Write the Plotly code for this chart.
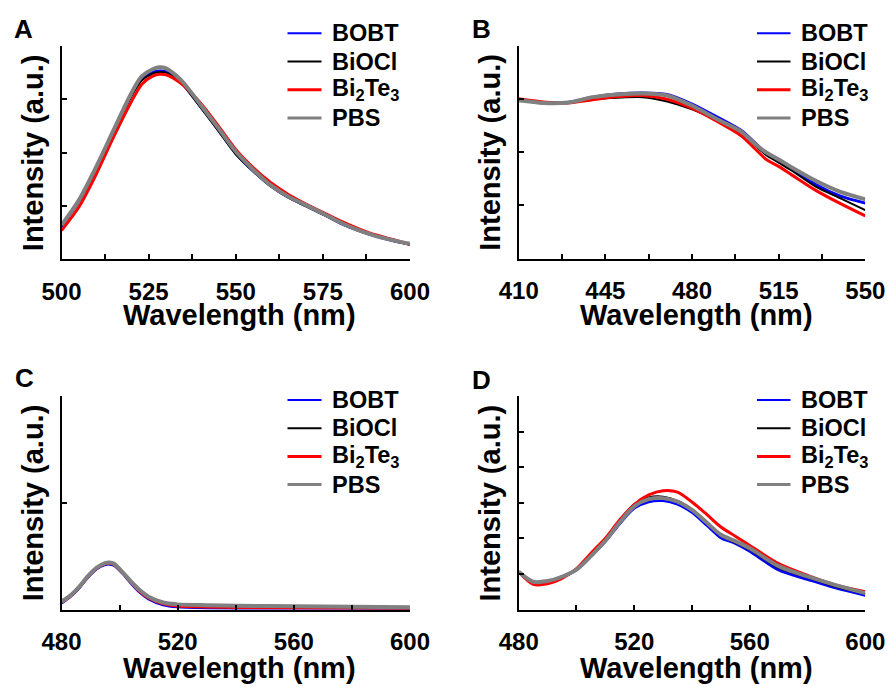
import plotly.graph_objects as go

# ---------------- data ----------------
series_names = ["BOBT", "BiOCl", "Bi<sub>2</sub>Te<sub>3</sub>", "PBS"]
series_colors = ["#0000FF", "#000000", "#FF0000", "#808080"]
series_widths = [3, 2, 3, 4]
legend_widths = [2, 2, 3, 3]

A_wl = [500, 505, 510, 515, 520, 523, 526, 528, 530, 533, 535, 540, 545, 550, 555, 560, 565, 570, 575, 580, 585, 590, 595, 600]
A_BOBT = [0.62, 1.09, 1.72, 2.41, 3.08, 3.38, 3.50, 3.53, 3.52, 3.40, 3.28, 2.86, 2.43, 1.99, 1.66, 1.38, 1.17, 1.01, 0.85, 0.68, 0.55, 0.44, 0.35, 0.28]
A_BiOCl = [0.62, 1.09, 1.71, 2.39, 3.05, 3.35, 3.48, 3.51, 3.50, 3.38, 3.26, 2.84, 2.41, 1.97, 1.65, 1.37, 1.16, 1.00, 0.84, 0.68, 0.54, 0.44, 0.35, 0.27]
A_Bi2Te3 = [0.54, 0.98, 1.60, 2.30, 2.95, 3.28, 3.43, 3.47, 3.46, 3.36, 3.26, 2.92, 2.50, 2.06, 1.72, 1.44, 1.22, 1.04, 0.88, 0.72, 0.58, 0.46, 0.37, 0.28]
A_PBS = [0.64, 1.11, 1.74, 2.43, 3.11, 3.43, 3.56, 3.60, 3.58, 3.44, 3.31, 2.89, 2.46, 2.02, 1.68, 1.39, 1.18, 1.02, 0.86, 0.69, 0.55, 0.44, 0.36, 0.29]

B_wl = [410, 420, 430, 440, 450, 460, 470, 480, 490, 500, 505, 510, 515, 520, 530, 540, 550]
B_BOBT = [2.98, 2.92, 2.93, 3.03, 3.09, 3.11, 3.08, 2.90, 2.66, 2.40, 2.19, 1.97, 1.84, 1.70, 1.39, 1.17, 1.04]
B_BiOCl = [2.98, 2.93, 2.93, 2.99, 3.02, 3.03, 2.95, 2.80, 2.60, 2.36, 2.14, 1.94, 1.80, 1.66, 1.35, 1.13, 0.91]
B_Bi2Te3 = [3.00, 2.94, 2.92, 2.98, 3.04, 3.06, 2.99, 2.82, 2.58, 2.30, 2.08, 1.86, 1.73, 1.58, 1.28, 1.03, 0.80]
B_PBS = [2.97, 2.92, 2.93, 3.03, 3.08, 3.10, 3.06, 2.87, 2.62, 2.38, 2.17, 1.99, 1.86, 1.72, 1.46, 1.25, 1.11]

C_wl = [480, 483, 486, 489, 492, 495, 496.5, 498, 501, 504, 507, 510, 515, 520, 530, 540, 560, 580, 600]
C_BOBT = [0.060, 0.120, 0.200, 0.300, 0.380, 0.420, 0.425, 0.415, 0.340, 0.245, 0.160, 0.100, 0.045, 0.025, 0.015, 0.010, 0.007, 0.005, 0.004]
C_BiOCl = [0.070, 0.125, 0.205, 0.305, 0.385, 0.430, 0.435, 0.425, 0.345, 0.255, 0.170, 0.110, 0.055, 0.035, 0.025, 0.020, 0.015, 0.012, 0.010]
C_Bi2Te3 = [0.068, 0.124, 0.204, 0.304, 0.384, 0.428, 0.433, 0.423, 0.344, 0.253, 0.168, 0.108, 0.053, 0.033, 0.024, 0.019, 0.014, 0.011, 0.009]
C_PBS = [0.074, 0.130, 0.210, 0.310, 0.390, 0.435, 0.440, 0.430, 0.350, 0.260, 0.180, 0.120, 0.065, 0.048, 0.040, 0.035, 0.030, 0.025, 0.020]

D_wl = [480, 485, 490, 495, 500, 505, 510, 515, 520, 525, 530, 535, 540, 545, 550, 555, 560, 570, 580, 590, 600]
D_BOBT = [1.06, 0.76, 0.78, 0.92, 1.12, 1.50, 1.92, 2.42, 2.85, 3.03, 3.06, 2.96, 2.73, 2.38, 2.02, 1.86, 1.64, 1.11, 0.85, 0.60, 0.40]
D_BiOCl = [1.06, 0.75, 0.79, 0.90, 1.14, 1.55, 1.98, 2.50, 2.96, 3.15, 3.17, 3.05, 2.80, 2.44, 2.08, 1.88, 1.68, 1.17, 0.90, 0.64, 0.44]
D_Bi2Te3 = [1.06, 0.71, 0.72, 0.87, 1.15, 1.58, 2.00, 2.52, 2.95, 3.22, 3.34, 3.30, 3.02, 2.68, 2.32, 2.06, 1.80, 1.29, 0.96, 0.68, 0.50]
D_PBS = [1.06, 0.78, 0.80, 0.92, 1.12, 1.50, 1.93, 2.45, 2.90, 3.10, 3.13, 3.03, 2.80, 2.45, 2.10, 1.92, 1.72, 1.22, 0.93, 0.68, 0.46]

panels = [
    ("A", A_wl, [A_BOBT, A_BiOCl, A_Bi2Te3, A_PBS], [500, 600], 25, 12.5, [0, 4]),
    ("B", B_wl, [B_BOBT, B_BiOCl, B_Bi2Te3, B_PBS], [410, 550], 35, 17.5, [0, 4]),
    ("C", C_wl, [C_BOBT, C_BiOCl, C_Bi2Te3, C_PBS], [480, 600], 40, 20, [0, 2]),
    ("D", D_wl, [D_BOBT, D_BiOCl, D_Bi2Te3, D_PBS], [480, 600], 40, 20, [0, 6]),
]

# ---------------- layout geometry (pixels) ----------------
W, H = 890, 687
FONT = "Liberation Sans, Arial, sans-serif"
px_x = [(61.5, 410.0), (518.7, 865.3), (61.5, 410.0), (518.7, 865.3)]
px_y = [(46.0, 259.3), (45.5, 258.5), (396.0, 609.5), (396.0, 609.5)]
title_off = [56, 56.5, 58.5, 58.5]
letter_pos = [(23, 29), (481, 29), (24, 378), (481, 380)]
legend_line_x = [(287.5, 321.5), (757, 790.5), (287.5, 321.5), (757, 790.5)]
legend_text_x = [330, 799, 330, 799]
legend_row0 = [33.3, 33.3, 400, 400]
legend_step = 28.2


def px2x(p):
    return p / W


def px2y(p):
    return 1 - p / H


fig = go.Figure()
annotations = []
shapes = []
layout = dict(
    width=W, height=H,
    margin=dict(l=0, r=0, t=0, b=0, autoexpand=False),
    paper_bgcolor="white", plot_bgcolor="white",
    font=dict(family=FONT, color="black"),
    showlegend=False,
)

for i, (letter, wl, ys, xr, dt, mdt, yr) in enumerate(panels):
    n = "" if i == 0 else str(i + 1)
    for k in range(4):
        fig.add_trace(go.Scatter(
            x=wl, y=ys[k], mode="lines", name=series_names[k],
            line=dict(color=series_colors[k], width=series_widths[k], shape="spline", smoothing=0.8),
            xaxis="x" + n, yaxis="y" + n,
        ))
    x0, x1 = px_x[i]
    y0, y1 = px_y[i]
    layout["xaxis" + n] = dict(
        domain=[px2x(x0), px2x(x1)], range=xr, anchor="y" + n,
        tick0=xr[0], dtick=dt, ticks="inside", ticklen=5, tickwidth=2, tickcolor="black",
        minor=dict(ticks="inside", ticklen=5, tickwidth=2, tickcolor="black", tick0=xr[0], dtick=mdt),
        showline=True, linewidth=2, linecolor="black", showgrid=False, zeroline=False,
        tickfont=dict(family=FONT, size=24, weight="bold"), ticklabelstandoff=10,
    )
    layout["yaxis" + n] = dict(
        domain=[px2y(y1), px2y(y0)], range=yr, anchor="x" + n,
        tick0=0, dtick=1, ticks="inside", ticklen=5, tickwidth=2, tickcolor="black",
        showticklabels=False, showline=True, linewidth=2, linecolor="black",
        showgrid=False, zeroline=False,
    )
    # panel letter
    annotations.append(dict(
        text="<b>%s</b>" % letter, x=px2x(letter_pos[i][0]), y=px2y(letter_pos[i][1]),
        xref="paper", yref="paper", xanchor="center", yanchor="middle", showarrow=False,
        font=dict(family=FONT, size=26),
    ))
    # axis titles
    annotations.append(dict(
        text="<b>Wavelength (nm)</b>", x=px2x((x0 + x1) / 2 + 4), y=px2y(y1 + title_off[i]),
        xref="paper", yref="paper", xanchor="center", yanchor="middle", showarrow=False,
        font=dict(family=FONT, size=29),
    ))
    annotations.append(dict(
        text="<b>Intensity (a.u.)</b>", x=px2x(x0 - 29), y=px2y((y0 + y1) / 2),
        xref="paper", yref="paper", xanchor="center", yanchor="middle", showarrow=False,
        textangle=-90, font=dict(family=FONT, size=29),
    ))
    # legend (one per panel)
    for k in range(4):
        yy = legend_row0[i] + k * legend_step
        shapes.append(dict(
            type="line", xref="paper", yref="paper",
            x0=px2x(legend_line_x[i][0]), x1=px2x(legend_line_x[i][1]), y0=px2y(yy), y1=px2y(yy),
            line=dict(color=series_colors[k], width=legend_widths[k]),
        ))
        annotations.append(dict(
            text="<b>%s</b>" % series_names[k], x=px2x(legend_text_x[i]), y=px2y(yy),
            xref="paper", yref="paper", xanchor="left", yanchor="middle", showarrow=False,
            font=dict(family=FONT, size=23.5),
        ))

layout["annotations"] = annotations
layout["shapes"] = shapes
fig.update_layout(**layout)
fig.write_html(
    "out.html",
    config={"displayModeBar": False},
    post_script="document.body.style.margin='0';document.body.style.padding='0';"
                "document.body.style.overflow='hidden';",
)
